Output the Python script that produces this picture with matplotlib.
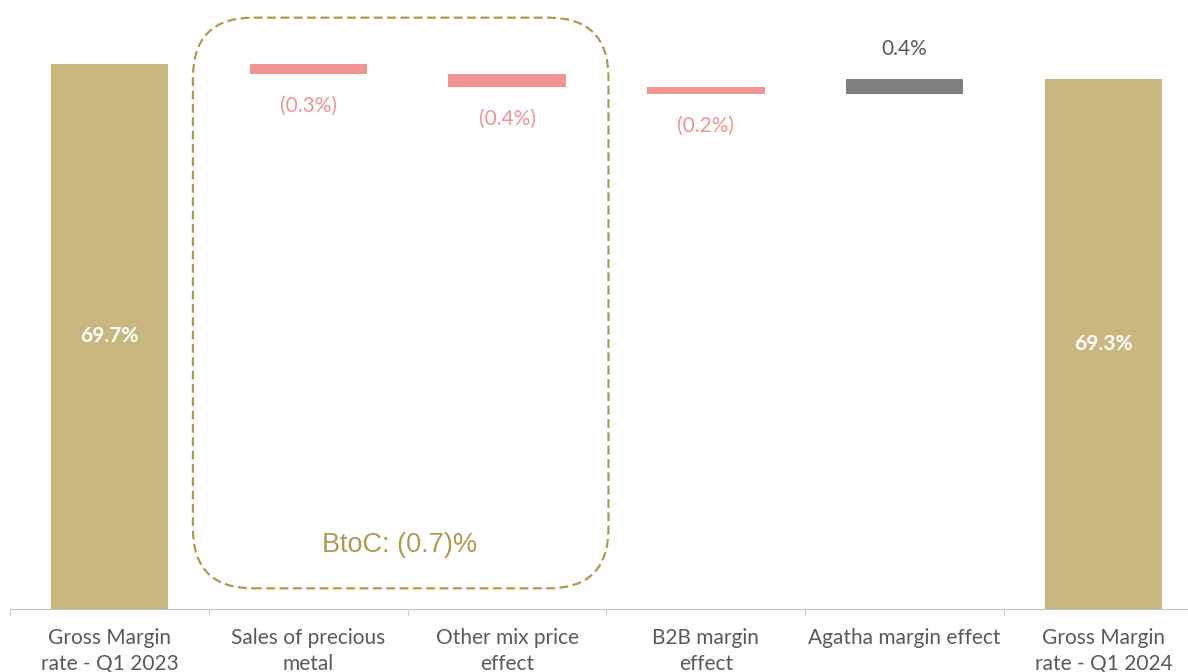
import numpy as np
import matplotlib as mpl
import matplotlib.pyplot as plt
from matplotlib.patches import FancyBboxPatch
from matplotlib.transforms import IdentityTransform

# DATA
categories = ["Gross Margin\nrate - Q1 2023", "Sales of precious\nmetal",
              "Other mix price\neffect", "B2B margin\neffect",
              "Agatha margin effect", "Gross Margin\nrate - Q1 2024"]
start_value = 69.7
end_value = 69.3
deltas = [-0.27, -0.34, -0.19, 0.41]
labels = ["69.7%", "(0.3%)", "(0.4%)", "(0.2%)", "0.4%", "69.3%"]
group_label = "BtoC: (0.7)%"

# COLORS
gold = "#C9B780"
neg_color = "#F09494"
pos_color = "#7F7F7F"
text_gray = "#595959"
box_color = "#B09A50"

plt.rcParams['font.family'] = ['Lato', 'DejaVu Sans']

fig = plt.figure(figsize=(11.88, 6.72), dpi=100)
ax = fig.add_axes([10 / 1188, 63 / 672, 1193 / 1188, 609 / 672])

ymin = 55.2
x = np.arange(len(categories))
width = 0.59
fs = 15

# totals
ax.bar(x[0], start_value - ymin, bottom=ymin, width=width, color=gold)
ax.bar(x[-1], end_value - ymin, bottom=ymin, width=width, color=gold)
ax.text(x[0], (start_value + ymin) / 2, labels[0], color="white",
        ha="center", va="center", fontsize=fs, fontweight="bold")
ax.text(x[-1], (end_value + ymin) / 2, labels[-1], color="white",
        ha="center", va="center", fontsize=fs, fontweight="bold")

# floating steps
level = start_value
for i, d in enumerate(deltas, start=1):
    col = neg_color if d < 0 else pos_color
    ax.bar(x[i], d, bottom=level, width=width, color=col)
    if d < 0:
        ax.annotate(labels[i], (x[i], level + d), xytext=(0, -32),
                    textcoords="offset pixels", ha="center", va="center",
                    color=neg_color, fontsize=fs)
    else:
        ax.annotate(labels[i], (x[i], level + d), xytext=(0, 30),
                    textcoords="offset pixels", ha="center", va="center",
                    color=text_gray, fontsize=fs)
    level += d

ax.set_xlim(-0.5, len(categories) - 0.5)
ax.set_ylim(ymin, 71.4)

for s in ["top", "right", "left"]:
    ax.spines[s].set_visible(False)
ax.spines["bottom"].set_color("#BFBFBF")
ax.set_yticks([])
ax.set_xticks(x)
ax.set_xticklabels(categories, color=text_gray, fontsize=fs, linespacing=1.32)
ax.tick_params(axis="x", which="major", length=0, pad=14)
ax.set_xticks(np.arange(-0.5, len(categories)), minor=True)
ax.tick_params(axis="x", which="minor", length=5, color="#BFBFBF")

# dashed BtoC box, drawn in pixels so the corners stay round
fig.canvas.draw()
(x0, y0), (x1, y1) = ax.transData.transform([(0.42, 55.75), (2.51, 70.93)])
box = FancyBboxPatch((x0, y0), x1 - x0, y1 - y0,
                     boxstyle="round,pad=0,rounding_size=60",
                     transform=IdentityTransform(), fill=False,
                     edgecolor=box_color, linewidth=1.6,
                     linestyle=(0, (4, 2)))
fig.add_artist(box)
ax.text(1.46, 56.9, group_label, color=box_color, fontsize=19.5,
        family="Liberation Sans", ha="center", va="center")

fig.savefig("out.png", dpi=100)
